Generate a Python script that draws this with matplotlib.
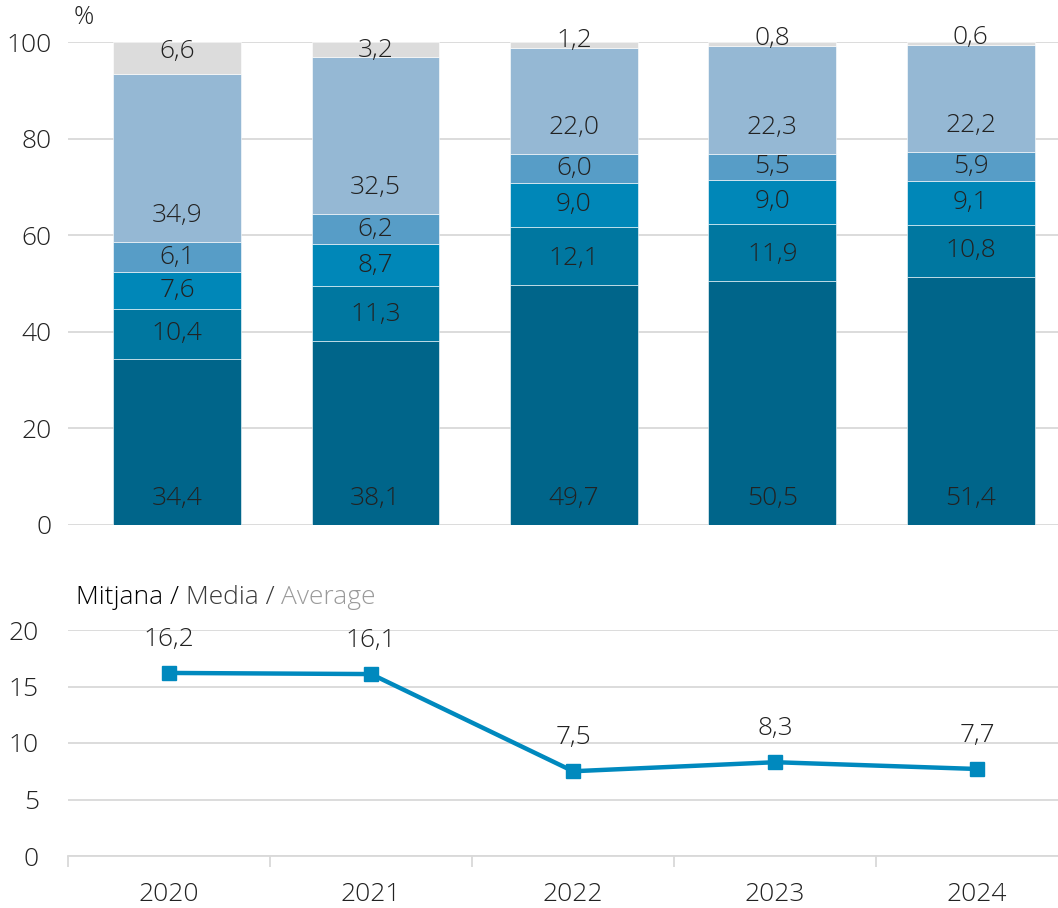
import numpy as np
import matplotlib.pyplot as plt
from matplotlib import font_manager

# --- 数据 ---
years = ["2020", "2021", "2022", "2023", "2024"]
s1 = [34.4, 38.1, 49.7, 50.5, 51.4]
s2 = [10.4, 11.3, 12.1, 11.9, 10.8]
s3 = [7.6, 8.7, 9.0, 9.0, 9.1]
s4 = [6.1, 6.2, 6.0, 5.5, 5.9]
s5 = [34.9, 32.5, 22.0, 22.3, 22.2]
s6 = [6.6, 3.2, 1.2, 0.8, 0.6]
average = [16.2, 16.1, 7.5, 8.3, 7.7]

series = [s1, s2, s3, s4, s5, s6]
colors = ["#00658A", "#0077A0", "#0087B8", "#579DC7", "#95B8D4", "#DCDCDC"]
line_color = "#0089BE"
grid_color = "#D9D9D9"
txt_color = "#222222"
fs = 19

names = {f.name for f in font_manager.fontManager.ttflist}
fam = "Open Sans" if "Open Sans" in names else "DejaVu Sans"
plt.rcParams["font.family"] = [fam, "DejaVu Sans"]
plt.rcParams["font.weight"] = "light"

def fmt(v):
    return f"{v:.1f}".replace(".", ",")

fig = plt.figure(figsize=(10.58, 9.08), dpi=100)

# --- 上图：堆积柱状图 ---
ax1 = fig.add_axes([68 / 1058, 1 - 525 / 908, 1 - 68 / 1058, (525 - 42) / 908])
x = np.arange(len(years))
bottom = np.zeros(len(years))
for k, (vals, c) in enumerate(zip(series, colors)):
    vals = np.array(vals)
    ax1.bar(x, vals, width=0.645, bottom=bottom, color=c, edgecolor="white", linewidth=0.4, zorder=3)
    for i, v in enumerate(vals):
        if k == len(series) - 1:
            y = max(bottom[i] + 1.5, 98)
        else:
            y = bottom[i] + min(5.5, v / 2)
        ax1.text(x[i], y, fmt(v), ha="center", va="center", fontsize=fs, color=txt_color, zorder=4, clip_on=False)
    bottom += vals

ax1.set_xlim(-0.55, 4.44)
ax1.set_ylim(0, 100)
ax1.set_yticks([0, 20, 40, 60, 80, 100])
ax1.set_xticks([])
ax1.grid(axis="y", color=grid_color, linewidth=1.3, zorder=0)
for s in ax1.spines.values():
    s.set_visible(False)
ax1.tick_params(axis="y", length=0, labelsize=fs, labelcolor=txt_color, pad=12)
ax1.text(-0.47, 102.5, "%", fontsize=fs - 1, color=txt_color, ha="center", va="bottom")

# --- 下图：平均值折线 ---
ax2 = fig.add_axes([68 / 1058, 1 - 856 / 908, 1 - 68 / 1058, (856 - 630) / 908])
ax2.plot(np.arange(len(years)), average, color=line_color, linewidth=3.2,
         marker="s", markersize=10, zorder=3)
for i, v in enumerate(average):
    ax2.text(i, v + 3.0, fmt(v), ha="center", va="center", fontsize=fs, color=txt_color)
ax2.set_xlim(-0.5, 4.4)
ax2.set_ylim(0, 20)
ax2.set_yticks([0, 5, 10, 15, 20])
ax2.set_xticks(np.arange(len(years)))
ax2.set_xticklabels(years)
ax2.set_xticks(np.arange(-0.5, 4.5, 1.0), minor=True)
ax2.grid(axis="y", color=grid_color, linewidth=1.3, zorder=0)
for s in ["top", "right", "left"]:
    ax2.spines[s].set_visible(False)
ax2.spines["bottom"].set_color(grid_color)
ax2.spines["bottom"].set_linewidth(1.3)
ax2.tick_params(axis="y", length=0, labelsize=fs, labelcolor=txt_color, pad=21)
ax2.tick_params(axis="x", which="major", length=0, labelsize=fs, labelcolor=txt_color, pad=19)
ax2.tick_params(axis="x", which="minor", length=8, width=1.3, color=grid_color)

# 标题，三种颜色
fig.canvas.draw()
r = fig.canvas.get_renderer()
px, py = 76, 908 - 597
for txt, c in [("Mitjana / ", "#000000"), ("Media / ", "#3A3A3A"), ("Average", "#9A9A9A")]:
    t = fig.text(px / 1058, py / 908, txt, fontsize=fs, color=c, va="center", ha="left")
    bb = t.get_window_extent(renderer=r)
    px += bb.width

fig.savefig("out.png", dpi=100)
